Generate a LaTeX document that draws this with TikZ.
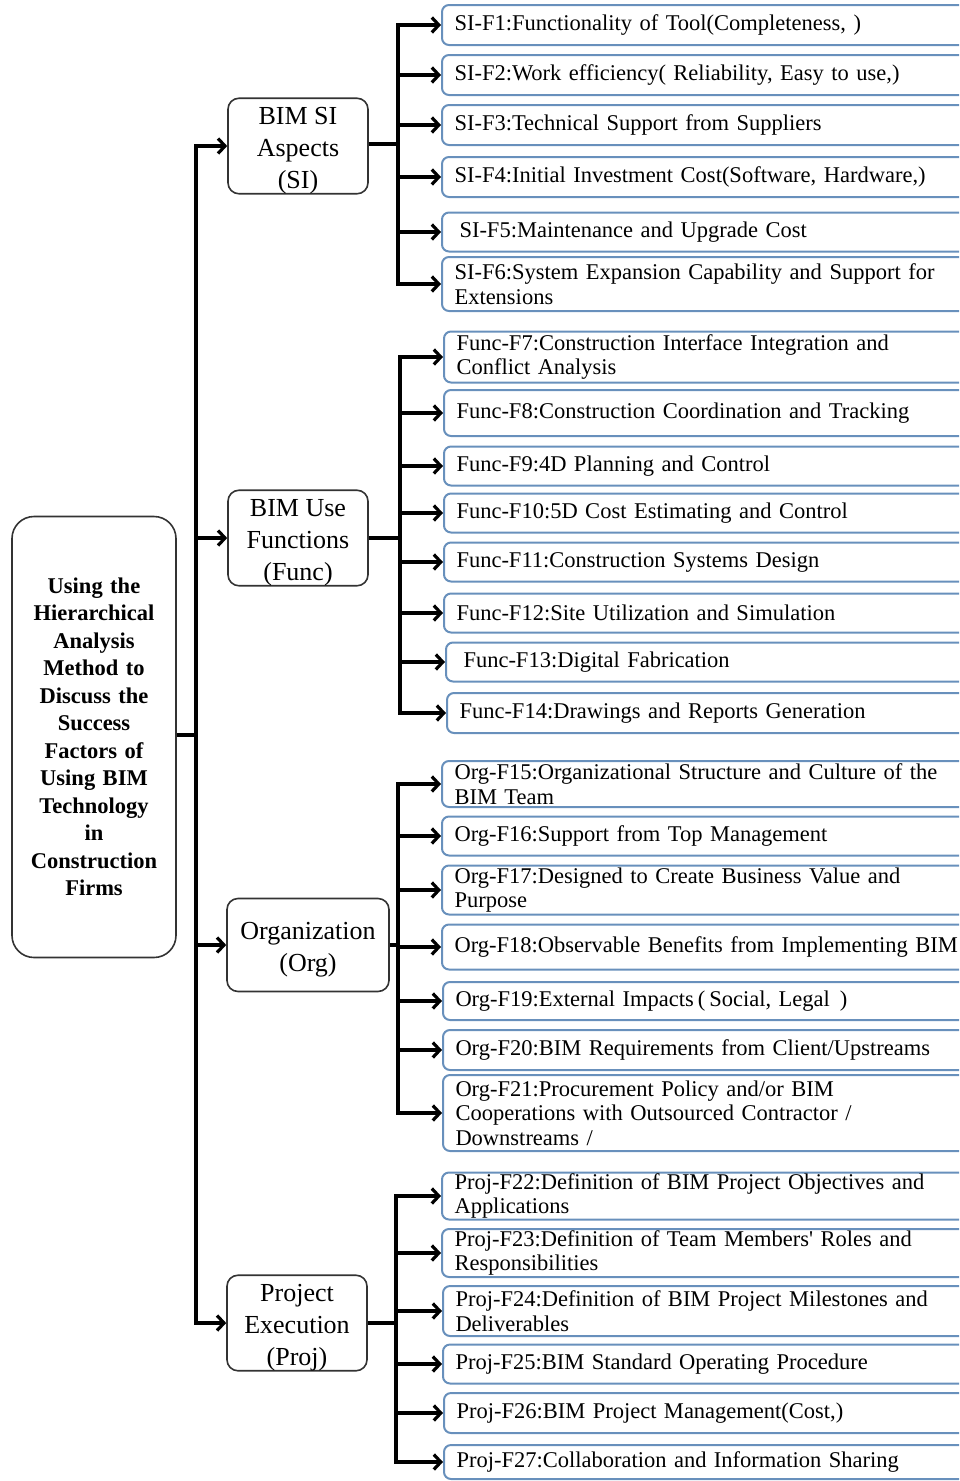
\documentclass[tikz,border=0pt]{standalone}
\usepackage{fontspec}
\setmainfont{Liberation Serif}
\usepackage{tikz}
\usetikzlibrary{shapes,arrows.meta}

\definecolor{leafblue}{RGB}{104,144,188}

\tikzset{
	goal/.style={draw=black!80, rounded corners=22, line width=1.6, align=center, text width=160, minimum width=164, minimum height=441, inner sep=0, font=\bfseries\fontsize{22.5}{27.5}\selectfont},
	aspect/.style={draw=black!80, rounded corners=11, line width=1.6, align=center, minimum width=140, minimum height=93, inner sep=0, font=\fontsize{26}{32}\selectfont},
	leaf/.style={draw=leafblue, rounded corners=7, line width=2, anchor=west, minimum width=540, text width=515, align=left, inner xsep=7, inner ysep=0, font=\fontsize{22.5}{24.5}\selectfont},
	wire/.style={line width=3.2}
}

\begin{document}
\begin{tikzpicture}[x=1pt, y=-1pt, >={Straight Barb[length=7pt,width=15pt]}]
		\useasboundingbox (0,0) rectangle (959,1481);
		\clip (0,0) rectangle (959,1481);

		\node[goal] (goal) at (94, 737) {Using the\\Hierarchical\\Analysis\\Method to\\Discuss the\\Success\\Factors of\\Using BIM\\Technology\\in\\Construction\\Firms};

		\node[aspect] (si) at (298, 146) {\mbox{}\\[-6pt]BIM SI\\Aspects\\(SI)};
		\node[aspect] (func) at (298, 538) {\mbox{}\\[-6pt]BIM Use\\Functions\\(Func)};
		\node[aspect, minimum width=162] (org) at (308, 945) {\mbox{}\\[-6pt]Organization\\(Org)};
		\node[aspect] (proj) at (297, 1323) {\mbox{}\\[-6pt]Project\\Execution\\(Proj)};

		\node[leaf, minimum height=40] (si1) at (441, 25) {SI-F1:Functionality of Tool(Completeness, )};
		\node[leaf, minimum height=40] (si2) at (441, 75) {SI-F2:Work efficiency( Reliability, Easy to use,)};
		\node[leaf, minimum height=40] (si3) at (441, 125) {SI-F3:Technical Support from Suppliers};
		\node[leaf, minimum height=40] (si4) at (441, 177) {SI-F4:Initial Investment Cost(Software, Hardware,)};
		\node[leaf, minimum height=39] (si5) at (441, 232) {\hspace{5pt}SI-F5:Maintenance and Upgrade Cost};
		\node[leaf, minimum height=54] (si6) at (441, 284) {SI-F6:System Expansion Capability and Support for\\Extensions};

		\node[leaf, minimum height=51] (fn7) at (443, 357) {Func-F7:Construction Interface Integration and\\Conflict Analysis};
		\node[leaf, minimum height=46] (fn8) at (443, 413) {Func-F8:Construction Coordination and Tracking};
		\node[leaf, minimum height=39] (fn9) at (443, 466) {Func-F9:4D Planning and Control};
		\node[leaf, minimum height=39] (fn10) at (443, 513) {Func-F10:5D Cost Estimating and Control};
		\node[leaf, minimum height=39] (fn11) at (443, 562) {Func-F11:Construction Systems Design};
		\node[leaf, minimum height=39] (fn12) at (443, 613) {Func-F12:Site Utilization and Simulation};
		\node[leaf, minimum height=39] (fn13) at (445, 662) {\hspace{5pt}Func-F13:Digital Fabrication};
		\node[leaf, minimum height=40] (fn14) at (446, 713) {Func-F14:Drawings and Reports Generation};

		\node[leaf, minimum height=46] (org15) at (441, 784) {Org-F15:Organizational Structure and Culture of the\\BIM Team};
		\node[leaf, minimum height=39] (org16) at (441, 836) {Org-F16:Support from Top Management};
		\node[leaf, minimum height=49] (org17) at (441, 890) {Org-F17:Designed to Create Business Value and\\Purpose};
		\node[leaf, minimum height=45] (org18) at (441, 947) {Org-F18:Observable Benefits from Implementing BIM};
		\node[leaf, minimum height=38] (org19) at (442, 1001) {Org-F19:External Impacts\hspace{4pt}(\hspace{4pt}Social, Legal\hspace{10pt})};
		\node[leaf, minimum height=40] (org20) at (442, 1050) {Org-F20:BIM Requirements from Client/Upstreams};
		\node[leaf, minimum height=76] (org21) at (442, 1113) {Org-F21:Procurement Policy and/or BIM\\Cooperations with Outsourced Contractor /\\Downstreams /};

		\node[leaf, minimum height=47] (pj22) at (441, 1196) {Proj-F22:Definition of BIM Project Objectives and\\Applications};
		\node[leaf, minimum height=48] (pj23) at (441, 1253) {Proj-F23:Definition of Team Members\textquotesingle{} Roles and\\Responsibilities};
		\node[leaf, minimum height=50] (pj24) at (442, 1311) {Proj-F24:Definition of BIM Project Milestones and\\Deliverables};
		\node[leaf, minimum height=39] (pj25) at (442, 1364) {Proj-F25:BIM Standard Operating Procedure};
		\node[leaf, minimum height=40] (pj26) at (443, 1413) {Proj-F26:BIM Project Management(Cost,)};
		\node[leaf, minimum height=34] (pj27) at (443, 1462) {Proj-F27:Collaboration and Information Sharing};

		% trunk and buses
		\coordinate (trunk) at (196, 735);
		\coordinate (sibus) at (398, 144);
		\coordinate (funcbus) at (400, 538);
		\coordinate (orgbus) at (398, 945);
		\coordinate (projbus) at (396, 1323);

		\path [draw, wire] (goal.east |- trunk) -- (trunk);
		\path [draw, wire, ->] (trunk) |- (si.west);
		\path [draw, wire, ->] (trunk) |- (func.west);
		\path [draw, wire, ->] (trunk) |- (org.west);
		\path [draw, wire, ->] (trunk) |- (proj.west);

		\path [draw, wire] (si.east |- sibus) -- (sibus);
		\path [draw, wire, ->] (sibus) |- (si1.west);
		\path [draw, wire, ->] (sibus) |- (si2.west);
		\path [draw, wire, ->] (sibus) |- (si3.west);
		\path [draw, wire, ->] (sibus) |- (si4.west);
		\path [draw, wire, ->] (sibus) |- (si5.west);
		\path [draw, wire, ->] (sibus) |- (si6.west);

		\path [draw, wire] (func.east) -- (funcbus);
		\path [draw, wire, ->] (funcbus) |- (fn7.west);
		\path [draw, wire, ->] (funcbus) |- (fn8.west);
		\path [draw, wire, ->] (funcbus) |- (fn9.west);
		\path [draw, wire, ->] (funcbus) |- (fn10.west);
		\path [draw, wire, ->] (funcbus) |- (fn11.west);
		\path [draw, wire, ->] (funcbus) |- (fn12.west);
		\path [draw, wire, ->] (funcbus) |- (fn13.west);
		\path [draw, wire, ->] (funcbus) |- (fn14.west);

		\path [draw, wire] (org.east) -- (orgbus);
		\path [draw, wire, ->] (orgbus) |- (org15.west);
		\path [draw, wire, ->] (orgbus) |- (org16.west);
		\path [draw, wire, ->] (orgbus) |- (org17.west);
		\path [draw, wire, ->] (orgbus) |- (org18.west);
		\path [draw, wire, ->] (orgbus) |- (org19.west);
		\path [draw, wire, ->] (orgbus) |- (org20.west);
		\path [draw, wire, ->] (orgbus) |- (org21.west);

		\path [draw, wire] (proj.east) -- (projbus);
		\path [draw, wire, ->] (projbus) |- (pj22.west);
		\path [draw, wire, ->] (projbus) |- (pj23.west);
		\path [draw, wire, ->] (projbus) |- (pj24.west);
		\path [draw, wire, ->] (projbus) |- (pj25.west);
		\path [draw, wire, ->] (projbus) |- (pj26.west);
		\path [draw, wire, ->] (projbus) |- (pj27.west);
	\end{tikzpicture}
\end{document}
